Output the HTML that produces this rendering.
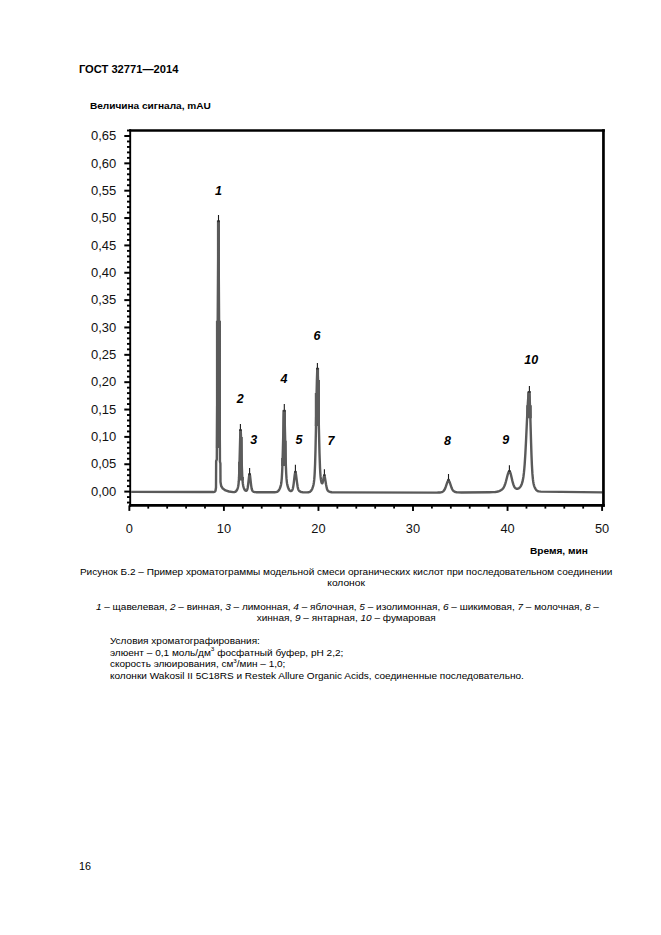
<!DOCTYPE html>
<html lang="ru"><head><meta charset="utf-8"><title>ГОСТ 32771—2014</title>
<style>
html,body{margin:0;padding:0;background:#fff;}
body{width:661px;height:935px;overflow:hidden;position:relative;}
svg{display:block;position:absolute;left:0;top:0;}
</style></head><body>
<svg width="661" height="935" viewBox="0 0 661 935">
<path d="M216.9,220.6 L220.0,220.6 L220.0,320.7 L221.0,320.7 L221.0,448.0 L215.9,448.0 L215.9,320.7 L216.9,320.7 Z" fill="#5c5c5c"/>
<path d="M131.20,491.90 L200.00,492.00 L213.40,492.07 L213.50,492.10 L214.70,491.90 L215.50,490.80 L216.00,487.50 L216.15,461.00 L216.80,459.50 L218.45,222.00 L219.90,448.00 L219.95,461.50 L220.40,463.50 L220.50,482.00 L221.20,486.00 L222.80,488.60 L225.50,490.40 L229.00,491.50 L233.20,492.15 L233.70,492.13 L234.50,492.05 L235.10,491.90 L235.60,491.65 L236.10,491.24 L236.60,490.60 L237.00,489.89 L237.40,488.99 L237.80,487.84 L238.20,486.25 L238.50,484.37 L238.80,481.21 L239.00,477.93 L239.40,467.46 L240.20,437.13 L240.40,432.38 L240.50,431.13 L240.60,430.70 L240.70,431.09 L240.80,432.23 L241.00,436.55 L241.90,468.01 L242.20,475.22 L242.50,480.03 L242.80,483.21 L243.20,485.68 L243.50,486.89 L243.90,488.12 L244.30,489.09 L244.70,489.82 L245.00,490.23 L245.40,490.60 L245.80,490.78 L246.20,490.80 L246.50,490.68 L246.80,490.40 L247.10,489.89 L247.30,489.37 L247.70,487.70 L248.00,485.78 L249.10,476.04 L249.40,474.49 L249.50,474.26 L249.60,474.18 L249.70,474.26 L249.80,474.50 L250.10,476.06 L251.10,485.10 L251.60,488.36 L251.90,489.57 L252.30,490.55 L252.70,491.09 L253.30,491.55 L253.90,491.83 L254.60,492.03 L255.40,492.15 L256.50,492.22 L274.70,492.24 L276.00,492.13 L277.00,491.86 L277.80,491.41 L278.20,491.06 L278.60,490.62 L279.20,489.73 L279.80,488.54 L280.40,487.00 L280.80,485.64 L281.10,484.25 L281.40,482.30 L281.80,478.09 L282.20,470.94 L282.50,463.01 L283.70,419.19 L284.00,413.04 L284.10,412.11 L284.20,411.80 L284.30,412.18 L284.40,413.31 L284.70,420.72 L285.60,457.27 L285.90,466.60 L286.20,473.49 L286.50,478.41 L286.90,482.37 L287.10,483.68 L287.40,485.17 L288.00,487.30 L288.50,488.62 L289.00,489.61 L289.50,490.32 L289.80,490.62 L290.10,490.84 L290.40,490.98 L290.70,491.05 L291.10,491.03 L291.40,490.94 L291.70,490.77 L292.00,490.49 L292.40,489.84 L292.70,489.06 L292.90,488.35 L293.30,486.37 L293.70,483.59 L294.50,476.62 L294.80,474.36 L295.10,472.83 L295.30,472.36 L295.40,472.30 L295.50,472.36 L295.70,472.84 L296.00,474.38 L297.10,483.09 L297.70,487.01 L298.00,488.38 L298.30,489.36 L298.60,490.05 L299.00,490.67 L299.40,491.08 L299.90,491.43 L300.60,491.77 L301.30,492.00 L302.00,492.14 L302.90,492.25 L305.50,492.33 L307.80,492.28 L308.50,492.20 L309.10,492.08 L309.70,491.86 L310.20,491.58 L310.70,491.17 L311.10,490.74 L311.80,489.67 L312.40,488.39 L313.00,486.67 L313.50,484.71 L313.90,482.43 L314.20,479.95 L314.50,476.38 L314.70,473.13 L315.10,463.82 L315.50,449.84 L315.90,431.10 L316.60,393.50 L316.90,380.29 L317.20,371.85 L317.30,370.38 L317.40,369.63 L317.50,369.64 L317.60,370.44 L317.70,372.04 L318.00,381.15 L318.30,395.28 L318.90,428.41 L319.50,453.33 L320.00,467.64 L320.30,473.15 L320.60,476.89 L320.90,479.43 L321.30,481.63 L321.50,482.37 L321.80,483.10 L322.00,483.33 L322.20,483.35 L322.40,483.14 L322.50,482.94 L322.80,482.01 L323.70,477.42 L324.00,476.25 L324.20,475.85 L324.30,475.80 L324.40,475.84 L324.50,475.98 L324.70,476.51 L324.90,477.35 L326.10,484.76 L326.60,487.40 L327.00,488.94 L327.40,489.96 L327.90,490.72 L328.50,491.26 L329.30,491.69 L330.40,492.04 L331.80,492.25 L333.70,492.35 L337.20,492.40 L434.20,492.59 L437.60,492.57 L439.60,492.46 L441.20,492.20 L441.80,492.03 L442.40,491.79 L442.90,491.52 L443.30,491.23 L443.70,490.85 L444.10,490.37 L444.70,489.40 L445.30,488.08 L445.90,486.43 L447.00,483.09 L447.50,481.81 L447.80,481.23 L448.00,480.95 L448.30,480.69 L448.50,480.64 L448.70,480.69 L449.00,480.94 L449.20,481.22 L449.50,481.80 L450.00,483.07 L451.60,487.78 L452.10,488.95 L452.60,489.87 L453.20,490.68 L453.90,491.31 L454.70,491.75 L455.70,492.08 L456.70,492.26 L457.90,492.38 L461.40,492.45 L489.70,492.26 L493.00,492.17 L495.30,492.00 L496.70,491.79 L497.90,491.52 L499.10,491.13 L500.20,490.65 L501.20,490.07 L502.00,489.48 L502.70,488.80 L503.40,487.91 L503.90,487.09 L504.40,486.06 L504.90,484.81 L505.30,483.64 L506.00,481.23 L507.60,475.01 L508.20,473.09 L508.50,472.36 L508.80,471.81 L509.10,471.46 L509.40,471.34 L509.60,471.40 L509.90,471.73 L510.20,472.33 L510.50,473.17 L511.00,474.98 L512.30,480.63 L512.90,482.98 L513.50,484.88 L514.20,486.52 L514.60,487.20 L515.10,487.83 L515.60,488.28 L516.10,488.57 L516.70,488.77 L517.30,488.81 L517.90,488.71 L518.50,488.47 L519.00,488.17 L519.50,487.75 L520.00,487.23 L520.40,486.71 L520.80,486.10 L521.20,485.37 L521.90,483.69 L522.50,481.66 L523.00,479.34 L523.50,476.22 L523.90,472.98 L524.30,468.94 L524.70,463.99 L525.40,453.00 L526.00,441.39 L527.30,413.46 L527.90,402.50 L528.20,398.26 L528.50,395.09 L528.80,393.13 L529.00,392.54 L529.10,392.46 L529.20,392.65 L529.40,394.14 L529.60,397.06 L529.80,401.25 L530.20,412.61 L531.10,443.38 L531.50,455.37 L531.90,464.99 L532.40,473.63 L532.90,479.21 L533.20,481.50 L533.60,483.74 L534.00,485.36 L534.50,486.87 L535.10,488.22 L535.80,489.38 L536.20,489.89 L536.70,490.39 L537.20,490.76 L537.80,491.08 L538.40,491.29 L539.00,491.42 L540.90,491.58 L602.40,492.39" fill="none" stroke="#5a5a5a" stroke-width="2.4" stroke-linejoin="round"/>
<path d="M239.2,429.6 L241.8,429.6 L241.8,436.9 L239.2,436.9 Z M239.2,436.9 L242.8,436.9 L242.8,461.8 L239.2,461.8 Z M238.0,461.8 L242.8,461.8 L242.8,477.0 L238.0,477.0 Z M238.0,477.0 L243.9,477.0 L243.9,480.6 L238.0,480.6 Z" fill="#5c5c5c"/>
<path d="M282.4,410.2 L286.0,410.2 L286.0,440.7 L282.4,440.7 Z M282.4,440.7 L286.7,440.7 L286.7,457.9 L282.4,457.9 Z M281.1,457.9 L286.7,457.9 L286.7,466.0 L281.1,466.0 Z" fill="#5c5c5c"/>
<path d="M316.1,368.1 L319.1,368.1 L319.1,380.1 L316.1,380.1 Z M316.1,380.1 L320.0,380.1 L320.0,392.9 L316.1,392.9 Z M314.8,392.9 L320.0,392.9 L320.0,425.9 L314.8,425.9 Z" fill="#5c5c5c"/>
<path d="M527.2,391.4 L530.7,391.4 L530.7,405.2 L527.2,405.2 Z M526.2,405.2 L531.8,405.2 L531.8,418.3 L526.2,418.3 Z" fill="#5c5c5c"/>
<line x1="218.5" y1="215.0" x2="218.5" y2="221.0" stroke="#1a1a1a" stroke-width="1.1"/>
<rect x="217.10" y="220.40" width="2.8" height="1.8" fill="#2a2a2a" opacity="0.75"/>
<line x1="240.4" y1="424.0" x2="240.4" y2="429.8" stroke="#1a1a1a" stroke-width="1.1"/>
<rect x="239.00" y="429.20" width="2.8" height="1.8" fill="#2a2a2a" opacity="0.75"/>
<line x1="249.6" y1="468.0" x2="249.6" y2="474.0" stroke="#1a1a1a" stroke-width="1.1"/>
<rect x="248.20" y="473.40" width="2.8" height="1.8" fill="#2a2a2a" opacity="0.75"/>
<line x1="284.3" y1="404.0" x2="284.3" y2="410.4" stroke="#1a1a1a" stroke-width="1.1"/>
<rect x="282.90" y="409.80" width="2.8" height="1.8" fill="#2a2a2a" opacity="0.75"/>
<line x1="295.4" y1="464.8" x2="295.4" y2="471.5" stroke="#1a1a1a" stroke-width="1.1"/>
<rect x="294.00" y="470.90" width="2.8" height="1.8" fill="#2a2a2a" opacity="0.75"/>
<line x1="317.4" y1="363.0" x2="317.4" y2="368.3" stroke="#1a1a1a" stroke-width="1.1"/>
<rect x="316.00" y="367.70" width="2.8" height="1.8" fill="#2a2a2a" opacity="0.75"/>
<line x1="324.4" y1="469.3" x2="324.4" y2="474.8" stroke="#1a1a1a" stroke-width="1.1"/>
<rect x="323.00" y="474.20" width="2.8" height="1.8" fill="#2a2a2a" opacity="0.75"/>
<line x1="448.5" y1="474.0" x2="448.5" y2="479.5" stroke="#1a1a1a" stroke-width="1.1"/>
<rect x="447.10" y="478.90" width="2.8" height="1.8" fill="#2a2a2a" opacity="0.75"/>
<line x1="509.4" y1="465.2" x2="509.4" y2="470.8" stroke="#1a1a1a" stroke-width="1.1"/>
<rect x="508.00" y="470.20" width="2.8" height="1.8" fill="#2a2a2a" opacity="0.75"/>
<line x1="529.4" y1="386.0" x2="529.4" y2="391.6" stroke="#1a1a1a" stroke-width="1.1"/>
<rect x="528.00" y="391.00" width="2.8" height="1.8" fill="#2a2a2a" opacity="0.75"/>
<line x1="130.2" y1="129.2" x2="130.2" y2="506.79999999999995" stroke="#000" stroke-width="1.9"/>
<line x1="603.45" y1="129.2" x2="603.45" y2="506.79999999999995" stroke="#000" stroke-width="2.7"/>
<line x1="129.25" y1="130.5" x2="604.8000000000001" y2="130.5" stroke="#000" stroke-width="2.6"/>
<line x1="129.25" y1="505.4" x2="604.8000000000001" y2="505.4" stroke="#000" stroke-width="2.8"/>
<line x1="127.0" y1="502.54" x2="130.2" y2="502.54" stroke="#000" stroke-width="1.9"/>
<line x1="127.0" y1="497.07" x2="130.2" y2="497.07" stroke="#000" stroke-width="1.9"/>
<line x1="124.3" y1="491.60" x2="130.2" y2="491.60" stroke="#000" stroke-width="2"/>
<line x1="127.0" y1="486.13" x2="130.2" y2="486.13" stroke="#000" stroke-width="1.9"/>
<line x1="127.0" y1="480.66" x2="130.2" y2="480.66" stroke="#000" stroke-width="1.9"/>
<line x1="127.0" y1="475.19" x2="130.2" y2="475.19" stroke="#000" stroke-width="1.9"/>
<line x1="127.0" y1="469.72" x2="130.2" y2="469.72" stroke="#000" stroke-width="1.9"/>
<line x1="124.3" y1="464.25" x2="130.2" y2="464.25" stroke="#000" stroke-width="2"/>
<line x1="127.0" y1="458.77" x2="130.2" y2="458.77" stroke="#000" stroke-width="1.9"/>
<line x1="127.0" y1="453.30" x2="130.2" y2="453.30" stroke="#000" stroke-width="1.9"/>
<line x1="127.0" y1="447.83" x2="130.2" y2="447.83" stroke="#000" stroke-width="1.9"/>
<line x1="127.0" y1="442.36" x2="130.2" y2="442.36" stroke="#000" stroke-width="1.9"/>
<line x1="124.3" y1="436.89" x2="130.2" y2="436.89" stroke="#000" stroke-width="2"/>
<line x1="127.0" y1="431.42" x2="130.2" y2="431.42" stroke="#000" stroke-width="1.9"/>
<line x1="127.0" y1="425.95" x2="130.2" y2="425.95" stroke="#000" stroke-width="1.9"/>
<line x1="127.0" y1="420.48" x2="130.2" y2="420.48" stroke="#000" stroke-width="1.9"/>
<line x1="127.0" y1="415.01" x2="130.2" y2="415.01" stroke="#000" stroke-width="1.9"/>
<line x1="124.3" y1="409.54" x2="130.2" y2="409.54" stroke="#000" stroke-width="2"/>
<line x1="127.0" y1="404.06" x2="130.2" y2="404.06" stroke="#000" stroke-width="1.9"/>
<line x1="127.0" y1="398.59" x2="130.2" y2="398.59" stroke="#000" stroke-width="1.9"/>
<line x1="127.0" y1="393.12" x2="130.2" y2="393.12" stroke="#000" stroke-width="1.9"/>
<line x1="127.0" y1="387.65" x2="130.2" y2="387.65" stroke="#000" stroke-width="1.9"/>
<line x1="124.3" y1="382.18" x2="130.2" y2="382.18" stroke="#000" stroke-width="2"/>
<line x1="127.0" y1="376.71" x2="130.2" y2="376.71" stroke="#000" stroke-width="1.9"/>
<line x1="127.0" y1="371.24" x2="130.2" y2="371.24" stroke="#000" stroke-width="1.9"/>
<line x1="127.0" y1="365.77" x2="130.2" y2="365.77" stroke="#000" stroke-width="1.9"/>
<line x1="127.0" y1="360.30" x2="130.2" y2="360.30" stroke="#000" stroke-width="1.9"/>
<line x1="124.3" y1="354.83" x2="130.2" y2="354.83" stroke="#000" stroke-width="2"/>
<line x1="127.0" y1="349.35" x2="130.2" y2="349.35" stroke="#000" stroke-width="1.9"/>
<line x1="127.0" y1="343.88" x2="130.2" y2="343.88" stroke="#000" stroke-width="1.9"/>
<line x1="127.0" y1="338.41" x2="130.2" y2="338.41" stroke="#000" stroke-width="1.9"/>
<line x1="127.0" y1="332.94" x2="130.2" y2="332.94" stroke="#000" stroke-width="1.9"/>
<line x1="124.3" y1="327.47" x2="130.2" y2="327.47" stroke="#000" stroke-width="2"/>
<line x1="127.0" y1="322.00" x2="130.2" y2="322.00" stroke="#000" stroke-width="1.9"/>
<line x1="127.0" y1="316.53" x2="130.2" y2="316.53" stroke="#000" stroke-width="1.9"/>
<line x1="127.0" y1="311.06" x2="130.2" y2="311.06" stroke="#000" stroke-width="1.9"/>
<line x1="127.0" y1="305.59" x2="130.2" y2="305.59" stroke="#000" stroke-width="1.9"/>
<line x1="124.3" y1="300.12" x2="130.2" y2="300.12" stroke="#000" stroke-width="2"/>
<line x1="127.0" y1="294.64" x2="130.2" y2="294.64" stroke="#000" stroke-width="1.9"/>
<line x1="127.0" y1="289.17" x2="130.2" y2="289.17" stroke="#000" stroke-width="1.9"/>
<line x1="127.0" y1="283.70" x2="130.2" y2="283.70" stroke="#000" stroke-width="1.9"/>
<line x1="127.0" y1="278.23" x2="130.2" y2="278.23" stroke="#000" stroke-width="1.9"/>
<line x1="124.3" y1="272.76" x2="130.2" y2="272.76" stroke="#000" stroke-width="2"/>
<line x1="127.0" y1="267.29" x2="130.2" y2="267.29" stroke="#000" stroke-width="1.9"/>
<line x1="127.0" y1="261.82" x2="130.2" y2="261.82" stroke="#000" stroke-width="1.9"/>
<line x1="127.0" y1="256.35" x2="130.2" y2="256.35" stroke="#000" stroke-width="1.9"/>
<line x1="127.0" y1="250.88" x2="130.2" y2="250.88" stroke="#000" stroke-width="1.9"/>
<line x1="124.3" y1="245.41" x2="130.2" y2="245.41" stroke="#000" stroke-width="2"/>
<line x1="127.0" y1="239.93" x2="130.2" y2="239.93" stroke="#000" stroke-width="1.9"/>
<line x1="127.0" y1="234.46" x2="130.2" y2="234.46" stroke="#000" stroke-width="1.9"/>
<line x1="127.0" y1="228.99" x2="130.2" y2="228.99" stroke="#000" stroke-width="1.9"/>
<line x1="127.0" y1="223.52" x2="130.2" y2="223.52" stroke="#000" stroke-width="1.9"/>
<line x1="124.3" y1="218.05" x2="130.2" y2="218.05" stroke="#000" stroke-width="2"/>
<line x1="127.0" y1="212.58" x2="130.2" y2="212.58" stroke="#000" stroke-width="1.9"/>
<line x1="127.0" y1="207.11" x2="130.2" y2="207.11" stroke="#000" stroke-width="1.9"/>
<line x1="127.0" y1="201.64" x2="130.2" y2="201.64" stroke="#000" stroke-width="1.9"/>
<line x1="127.0" y1="196.17" x2="130.2" y2="196.17" stroke="#000" stroke-width="1.9"/>
<line x1="124.3" y1="190.69" x2="130.2" y2="190.69" stroke="#000" stroke-width="2"/>
<line x1="127.0" y1="185.22" x2="130.2" y2="185.22" stroke="#000" stroke-width="1.9"/>
<line x1="127.0" y1="179.75" x2="130.2" y2="179.75" stroke="#000" stroke-width="1.9"/>
<line x1="127.0" y1="174.28" x2="130.2" y2="174.28" stroke="#000" stroke-width="1.9"/>
<line x1="127.0" y1="168.81" x2="130.2" y2="168.81" stroke="#000" stroke-width="1.9"/>
<line x1="124.3" y1="163.34" x2="130.2" y2="163.34" stroke="#000" stroke-width="2"/>
<line x1="127.0" y1="157.87" x2="130.2" y2="157.87" stroke="#000" stroke-width="1.9"/>
<line x1="127.0" y1="152.40" x2="130.2" y2="152.40" stroke="#000" stroke-width="1.9"/>
<line x1="127.0" y1="146.93" x2="130.2" y2="146.93" stroke="#000" stroke-width="1.9"/>
<line x1="127.0" y1="141.46" x2="130.2" y2="141.46" stroke="#000" stroke-width="1.9"/>
<line x1="124.3" y1="135.99" x2="130.2" y2="135.99" stroke="#000" stroke-width="2"/>
<line x1="127.0" y1="130.51" x2="130.2" y2="130.51" stroke="#000" stroke-width="1.9"/>
<text x="116.3" y="495.80" text-anchor="end" font-size="12" font-family='"Liberation Sans", Arial, sans-serif' fill="#111" textLength="25.3" lengthAdjust="spacingAndGlyphs">0,00</text>
<text x="116.3" y="468.44" text-anchor="end" font-size="12" font-family='"Liberation Sans", Arial, sans-serif' fill="#111" textLength="25.3" lengthAdjust="spacingAndGlyphs">0,05</text>
<text x="116.3" y="441.09" text-anchor="end" font-size="12" font-family='"Liberation Sans", Arial, sans-serif' fill="#111" textLength="25.3" lengthAdjust="spacingAndGlyphs">0,10</text>
<text x="116.3" y="413.74" text-anchor="end" font-size="12" font-family='"Liberation Sans", Arial, sans-serif' fill="#111" textLength="25.3" lengthAdjust="spacingAndGlyphs">0,15</text>
<text x="116.3" y="386.38" text-anchor="end" font-size="12" font-family='"Liberation Sans", Arial, sans-serif' fill="#111" textLength="25.3" lengthAdjust="spacingAndGlyphs">0,20</text>
<text x="116.3" y="359.03" text-anchor="end" font-size="12" font-family='"Liberation Sans", Arial, sans-serif' fill="#111" textLength="25.3" lengthAdjust="spacingAndGlyphs">0,25</text>
<text x="116.3" y="331.67" text-anchor="end" font-size="12" font-family='"Liberation Sans", Arial, sans-serif' fill="#111" textLength="25.3" lengthAdjust="spacingAndGlyphs">0,30</text>
<text x="116.3" y="304.31" text-anchor="end" font-size="12" font-family='"Liberation Sans", Arial, sans-serif' fill="#111" textLength="25.3" lengthAdjust="spacingAndGlyphs">0,35</text>
<text x="116.3" y="276.96" text-anchor="end" font-size="12" font-family='"Liberation Sans", Arial, sans-serif' fill="#111" textLength="25.3" lengthAdjust="spacingAndGlyphs">0,40</text>
<text x="116.3" y="249.60" text-anchor="end" font-size="12" font-family='"Liberation Sans", Arial, sans-serif' fill="#111" textLength="25.3" lengthAdjust="spacingAndGlyphs">0,45</text>
<text x="116.3" y="222.25" text-anchor="end" font-size="12" font-family='"Liberation Sans", Arial, sans-serif' fill="#111" textLength="25.3" lengthAdjust="spacingAndGlyphs">0,50</text>
<text x="116.3" y="194.89" text-anchor="end" font-size="12" font-family='"Liberation Sans", Arial, sans-serif' fill="#111" textLength="25.3" lengthAdjust="spacingAndGlyphs">0,55</text>
<text x="116.3" y="167.54" text-anchor="end" font-size="12" font-family='"Liberation Sans", Arial, sans-serif' fill="#111" textLength="25.3" lengthAdjust="spacingAndGlyphs">0,60</text>
<text x="116.3" y="140.19" text-anchor="end" font-size="12" font-family='"Liberation Sans", Arial, sans-serif' fill="#111" textLength="25.3" lengthAdjust="spacingAndGlyphs">0,65</text>
<line x1="129.35" y1="505.4" x2="129.35" y2="510.9" stroke="#000" stroke-width="1.9"/>
<text x="129.35" y="532.8" text-anchor="middle" font-size="12" font-family='"Liberation Sans", Arial, sans-serif' fill="#111" textLength="7.14" lengthAdjust="spacingAndGlyphs">0</text>
<line x1="148.26" y1="505.4" x2="148.26" y2="508.6" stroke="#000" stroke-width="1.8"/>
<line x1="167.17" y1="505.4" x2="167.17" y2="508.6" stroke="#000" stroke-width="1.8"/>
<line x1="186.08" y1="505.4" x2="186.08" y2="508.6" stroke="#000" stroke-width="1.8"/>
<line x1="204.99" y1="505.4" x2="204.99" y2="508.6" stroke="#000" stroke-width="1.8"/>
<line x1="223.90" y1="505.4" x2="223.90" y2="510.9" stroke="#000" stroke-width="1.9"/>
<text x="223.90" y="532.8" text-anchor="middle" font-size="12" font-family='"Liberation Sans", Arial, sans-serif' fill="#111" textLength="14.27" lengthAdjust="spacingAndGlyphs">10</text>
<line x1="242.81" y1="505.4" x2="242.81" y2="508.6" stroke="#000" stroke-width="1.8"/>
<line x1="261.72" y1="505.4" x2="261.72" y2="508.6" stroke="#000" stroke-width="1.8"/>
<line x1="280.63" y1="505.4" x2="280.63" y2="508.6" stroke="#000" stroke-width="1.8"/>
<line x1="299.54" y1="505.4" x2="299.54" y2="508.6" stroke="#000" stroke-width="1.8"/>
<line x1="318.45" y1="505.4" x2="318.45" y2="510.9" stroke="#000" stroke-width="1.9"/>
<text x="318.45" y="532.8" text-anchor="middle" font-size="12" font-family='"Liberation Sans", Arial, sans-serif' fill="#111" textLength="14.27" lengthAdjust="spacingAndGlyphs">20</text>
<line x1="337.36" y1="505.4" x2="337.36" y2="508.6" stroke="#000" stroke-width="1.8"/>
<line x1="356.27" y1="505.4" x2="356.27" y2="508.6" stroke="#000" stroke-width="1.8"/>
<line x1="375.18" y1="505.4" x2="375.18" y2="508.6" stroke="#000" stroke-width="1.8"/>
<line x1="394.09" y1="505.4" x2="394.09" y2="508.6" stroke="#000" stroke-width="1.8"/>
<line x1="413.00" y1="505.4" x2="413.00" y2="510.9" stroke="#000" stroke-width="1.9"/>
<text x="413.00" y="532.8" text-anchor="middle" font-size="12" font-family='"Liberation Sans", Arial, sans-serif' fill="#111" textLength="14.27" lengthAdjust="spacingAndGlyphs">30</text>
<line x1="431.91" y1="505.4" x2="431.91" y2="508.6" stroke="#000" stroke-width="1.8"/>
<line x1="450.82" y1="505.4" x2="450.82" y2="508.6" stroke="#000" stroke-width="1.8"/>
<line x1="469.73" y1="505.4" x2="469.73" y2="508.6" stroke="#000" stroke-width="1.8"/>
<line x1="488.64" y1="505.4" x2="488.64" y2="508.6" stroke="#000" stroke-width="1.8"/>
<line x1="507.55" y1="505.4" x2="507.55" y2="510.9" stroke="#000" stroke-width="1.9"/>
<text x="507.55" y="532.8" text-anchor="middle" font-size="12" font-family='"Liberation Sans", Arial, sans-serif' fill="#111" textLength="14.27" lengthAdjust="spacingAndGlyphs">40</text>
<line x1="526.46" y1="505.4" x2="526.46" y2="508.6" stroke="#000" stroke-width="1.8"/>
<line x1="545.37" y1="505.4" x2="545.37" y2="508.6" stroke="#000" stroke-width="1.8"/>
<line x1="564.28" y1="505.4" x2="564.28" y2="508.6" stroke="#000" stroke-width="1.8"/>
<line x1="583.19" y1="505.4" x2="583.19" y2="508.6" stroke="#000" stroke-width="1.8"/>
<line x1="602.10" y1="505.4" x2="602.10" y2="510.9" stroke="#000" stroke-width="1.9"/>
<text x="602.10" y="532.8" text-anchor="middle" font-size="12" font-family='"Liberation Sans", Arial, sans-serif' fill="#111" textLength="14.27" lengthAdjust="spacingAndGlyphs">50</text>
<text x="218.6" y="194.8" text-anchor="middle" font-size="12.5" font-weight="bold" font-style="italic" font-family='"Liberation Sans", Arial, sans-serif' fill="#000">1</text>
<text x="240.2" y="403.0" text-anchor="middle" font-size="12.5" font-weight="bold" font-style="italic" font-family='"Liberation Sans", Arial, sans-serif' fill="#000">2</text>
<text x="253.7" y="444.0" text-anchor="middle" font-size="12.5" font-weight="bold" font-style="italic" font-family='"Liberation Sans", Arial, sans-serif' fill="#000">3</text>
<text x="284.0" y="383.0" text-anchor="middle" font-size="12.5" font-weight="bold" font-style="italic" font-family='"Liberation Sans", Arial, sans-serif' fill="#000">4</text>
<text x="299.0" y="444.0" text-anchor="middle" font-size="12.5" font-weight="bold" font-style="italic" font-family='"Liberation Sans", Arial, sans-serif' fill="#000">5</text>
<text x="317.0" y="339.5" text-anchor="middle" font-size="12.5" font-weight="bold" font-style="italic" font-family='"Liberation Sans", Arial, sans-serif' fill="#000">6</text>
<text x="331.0" y="445.0" text-anchor="middle" font-size="12.5" font-weight="bold" font-style="italic" font-family='"Liberation Sans", Arial, sans-serif' fill="#000">7</text>
<text x="447.5" y="445.0" text-anchor="middle" font-size="12.5" font-weight="bold" font-style="italic" font-family='"Liberation Sans", Arial, sans-serif' fill="#000">8</text>
<text x="505.8" y="444.0" text-anchor="middle" font-size="12.5" font-weight="bold" font-style="italic" font-family='"Liberation Sans", Arial, sans-serif' fill="#000">9</text>
<text x="531.3" y="363.7" text-anchor="middle" font-size="12.5" font-weight="bold" font-style="italic" font-family='"Liberation Sans", Arial, sans-serif' fill="#000">10</text>
<text x="78.9" y="73.1" font-size="11.7" font-weight="bold" font-family='"Liberation Sans", Arial, sans-serif' fill="#000" text-anchor="start" textLength="99.5" lengthAdjust="spacingAndGlyphs">ГОСТ 32771—2014</text>
<text x="89.9" y="109.2" font-size="9.7" font-weight="bold" font-family='"Liberation Sans", Arial, sans-serif' fill="#000" text-anchor="start" textLength="121" lengthAdjust="spacingAndGlyphs">Величина сигнала, mAU</text>
<text x="529.9" y="553.6" font-size="8.9" font-weight="bold" font-family='"Liberation Sans", Arial, sans-serif' fill="#000" text-anchor="start" textLength="58" lengthAdjust="spacingAndGlyphs">Время, мин</text>
<text x="79.9" y="574.7" font-size="9.1" font-weight="normal" font-family='"Liberation Sans", Arial, sans-serif' fill="#000" text-anchor="start" textLength="532.6" lengthAdjust="spacingAndGlyphs">Рисунок Б.2 – Пример хроматограммы модельной смеси органических кислот при последовательном соединении</text>
<text x="327.3" y="586.4" font-size="9.1" font-weight="normal" font-family='"Liberation Sans", Arial, sans-serif' fill="#000" text-anchor="start" textLength="37.6" lengthAdjust="spacingAndGlyphs">колонок</text>
<text x="95.9" y="609.6" font-size="9" font-family='"Liberation Sans", Arial, sans-serif' fill="#000" textLength="503" lengthAdjust="spacingAndGlyphs"><tspan font-style="italic">1</tspan> – щавелевая, <tspan font-style="italic">2</tspan> – винная, <tspan font-style="italic">3</tspan> – лимонная, <tspan font-style="italic">4</tspan> – яблочная, <tspan font-style="italic">5</tspan> – изолимонная, <tspan font-style="italic">6</tspan> – шикимовая, <tspan font-style="italic">7</tspan> – молочная, <tspan font-style="italic">8</tspan> –</text>
<text x="256.7" y="620.6" font-size="9" font-family='"Liberation Sans", Arial, sans-serif' fill="#000" textLength="179" lengthAdjust="spacingAndGlyphs">хинная, <tspan font-style="italic">9</tspan> – янтарная, <tspan font-style="italic">10</tspan> – фумаровая</text>
<text x="109.9" y="643.8" font-size="8.8" font-weight="normal" font-family='"Liberation Sans", Arial, sans-serif' fill="#000" text-anchor="start" textLength="150" lengthAdjust="spacingAndGlyphs">Условия хроматографирования:</text>
<text x="109.9" y="655.7" font-size="8.8" font-family='"Liberation Sans", Arial, sans-serif' fill="#000" textLength="233.5" lengthAdjust="spacingAndGlyphs">элюент – 0,1 моль/дм<tspan dy="-4.3" font-size="5.5">3</tspan><tspan dy="4.3"> фосфатный буфер, pH 2,2;</tspan></text>
<text x="109.9" y="666.9" font-size="8.8" font-family='"Liberation Sans", Arial, sans-serif' fill="#000" textLength="175.5" lengthAdjust="spacingAndGlyphs">скорость элюирования, см<tspan dy="-4.3" font-size="5.5">3</tspan><tspan dy="4.3">/мин – 1,0;</tspan></text>
<text x="109.9" y="678.8" font-size="8.8" font-weight="normal" font-family='"Liberation Sans", Arial, sans-serif' fill="#000" text-anchor="start" textLength="414" lengthAdjust="spacingAndGlyphs">колонки Wakosil II 5C18RS и Restek Allure Organic Acids, соединенные последовательно.</text>
<text x="79.0" y="870.0" font-size="10.8" font-weight="normal" font-family='"Liberation Sans", Arial, sans-serif' fill="#000" text-anchor="start" textLength="12" lengthAdjust="spacingAndGlyphs">16</text>
</svg>
</body></html>
